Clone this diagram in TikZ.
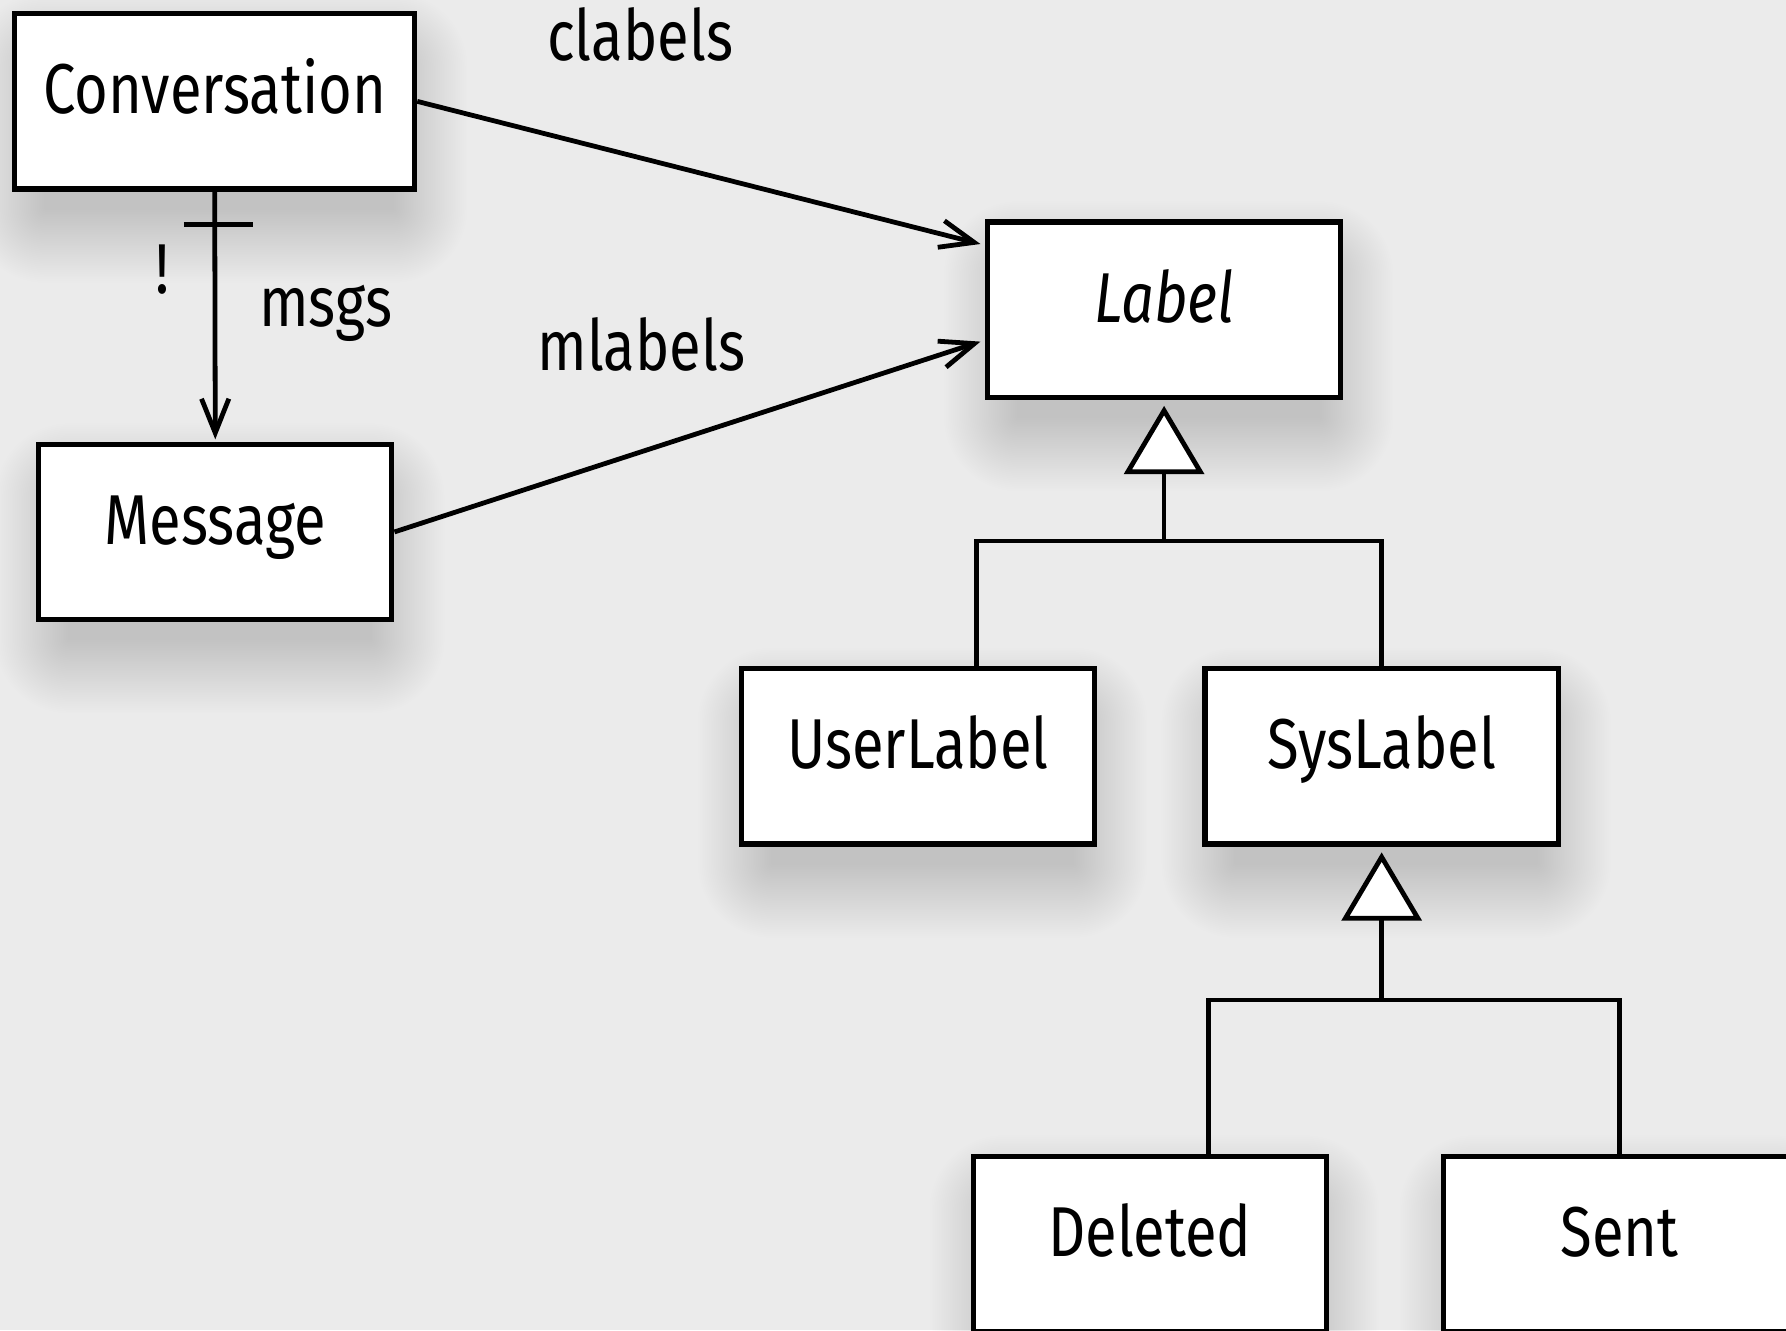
\documentclass[tikz,border=0pt]{standalone}
\usepackage{fontspec}
\setmainfont[FakeStretch=0.82]{Fira Sans}
\usetikzlibrary{arrows.meta,calc,backgrounds}
\definecolor{bg}{HTML}{EBEBEB}
\begin{document}
\begin{tikzpicture}[x=0.5pt,y=-0.5pt,
  font=\fontsize{31}{36}\selectfont,
  cls/.style={draw=black,line width=2.3pt,fill=white,minimum width=155pt,minimum height=77pt,
    inner sep=0pt,text height=24pt,text depth=13pt},
  conn/.style={line width=2.1pt},
  assoc/.style={conn,-{Straight Barb[length=15pt,width=12pt,line width=2.1pt]},shorten >=1pt},
  gen/.style={conn,-{Triangle[open,fill=white,length=30pt,width=35pt,line width=2.1pt]},shorten >=2.5pt},
  lbl/.style={anchor=base,inner sep=0pt},
  shadowlayer/.style={fill=black,fill opacity=0.0042}]
\useasboundingbox (0,0) rectangle (1568,1168);

\node[cls,minimum width=175.5pt] (Conversation) at (188.5,89) {Conversation};
\node[cls] (Message) at (189,467) {Message};
\node[cls] (Label) at (1022,272) {\itshape Label};
\node[cls] (UserLabel) at (806,664) {UserLabel};
\node[cls] (SysLabel) at (1213,664) {SysLabel};
\node[cls] (Deleted) at (1009.5,1092) {Deleted};
\node[cls] (Sent) at (1422,1092) {Sent};

\begin{scope}[on background layer]
\fill[bg] (0,0) rectangle (1568,1168);
\foreach \n in {Conversation,Message,Label,UserLabel,SysLabel,Deleted,Sent}{
  \foreach \i in {0,...,40}{
    \fill[shadowlayer,rounded corners=0.8*\i pt+0.5pt]
      ($(\n.south west)+(14pt-0.8*\i pt,-8pt-0.8*\i pt)$) rectangle
      ($(\n.north east)+(-10pt+0.8*\i pt,-24pt+0.8*\i pt)$);
  }
}
\end{scope}

% associations
\draw[assoc] (Conversation.south) -- (Message.north);
\draw[conn] ($(Conversation.south)+(-27,29)$) coordinate (tk) -- ++(61,0);
\draw[assoc] (Conversation.east) -- ($(Label.north west)+(-2,22)$);
\draw[assoc] (Message.east) -- ($(Label.south west)+(-2,-52)$);

\node[lbl] (clabels) at (562,53) {clabels};
\node[lbl] (mlabels) at (563,325) {mlabels};
\node[lbl] (msgs) at (286,287) {msgs};
\node[lbl] (bang) at (143,258) {!};

% generalization Label
\coordinate (j1) at (1022,475);
\draw[gen] (j1) -- (Label.south);
\draw[conn] ($(UserLabel.north)+(51,0)$) |- (j1) -| (SysLabel.north);

% generalization SysLabel
\coordinate (j2) at (1213,878);
\draw[gen] (j2) -- (SysLabel.south);
\draw[conn] ($(Deleted.north)+(51.5,0)$) |- (j2) -| (Sent.north);
\end{tikzpicture}
\end{document}
